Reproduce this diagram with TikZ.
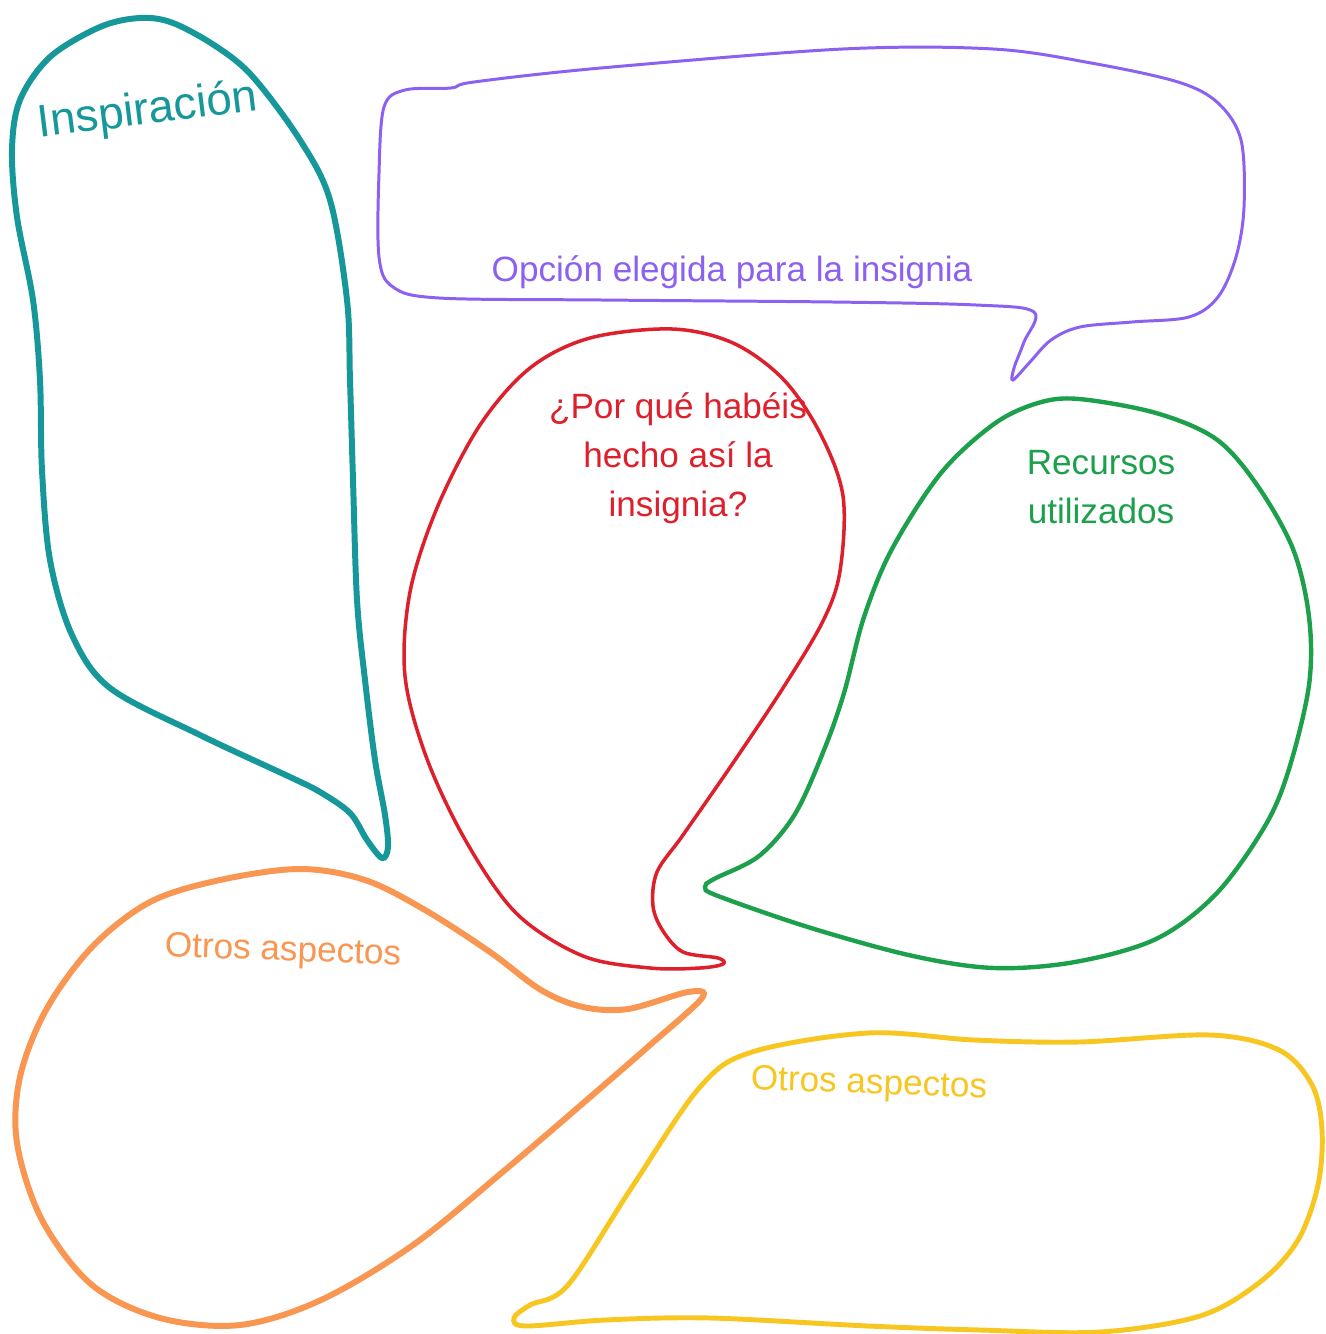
\documentclass[tikz,border=0pt]{standalone}
\usepackage{fontspec}
\setmainfont{Liberation Sans}
\usetikzlibrary{positioning}

\definecolor{inspteal}{RGB}{22,152,154}
\definecolor{opcpurple}{RGB}{140,96,240}
\definecolor{porqred}{RGB}{222,32,44}
\definecolor{recgreen}{RGB}{28,160,76}
\definecolor{otrorange}{RGB}{248,150,82}
\definecolor{otryellow}{RGB}{248,198,32}

\begin{document}
\begin{tikzpicture}[
      x=0.02cm, y=-0.02cm,
      bubble/.style={
          line join=round,
          line cap=round,
          smooth cycle,
          tension=0.55
        },
      label/.style={
          inner sep=0pt,
          align=center,
          font=\fontsize{20}{28}\selectfont
        }
    ]

    \clip (0,0) rectangle (1325,1334);
    \fill[white] (0,0) rectangle (1325,1334);

    % Bubbles
    \draw[inspteal, line width=3.4pt] plot[bubble] coordinates {
        (140,18) (173,23) (217,47) (253,77) (300,140) (330,200) (347,300)
        (350,380) (353,480) (357,600) (365,680) (375,760) (385,815) (388,847)
        (382,858) (367,840) (350,813) (320,792) (290,777) (200,735) (110,688)
        (72,635) (50,560) (42,470) (40,380) (33,300) (17,217) (12,150)
        (20,100) (50,57) (100,27)};

    \draw[opcpurple, line width=1.7pt] plot[bubble] coordinates {
        (405,90) (451,88) (474,82) (601,68) (843,49) (993,49) (1091,63)
        (1178,82) (1218,103) (1241,140) (1244,207) (1236,257) (1218,297)
        (1189,317) (1132,322) (1080,327) (1051,340) (1030,362) (1013,380)
        (1014,368) (1024,342) (1034,312) (976,305) (832,302) (601,300)
        (439,298) (393,287) (379,257) (379,173) (384,107)};

    \draw[porqred, line width=2pt] plot[bubble] coordinates {
        (672,329) (733,343) (783,379) (820,433) (843,496) (840,571) (823,621)
        (783,688) (733,763) (683,835) (657,872) (653,906) (663,931) (683,952)
        (718,958) (723,964) (700,968) (650,968) (583,956) (517,914) (467,843)
        (427,759) (405,676) (410,592) (437,508) (480,425) (530,368) (590,338)};

    \draw[recgreen, line width=2.5pt] plot[bubble] coordinates {
        (1079,399) (1156,413) (1216,439) (1257,485) (1293,549) (1309,617)
        (1309,685) (1289,769) (1265,826) (1216,894) (1156,939) (1075,962)
        (994,968) (913,956) (811,928) (718,896) (705,887) (714,879) (759,856)
        (795,814) (824,750) (844,693) (864,617) (892,549) (941,473) (994,424)
        (1038,403)};

    \draw[otrorange, line width=3.4pt] plot[bubble] coordinates {
        (300,869) (365,880) (425,910) (490,952) (541,990) (583,1007)
        (628,1009) (688,992) (702,998) (650,1045) (596,1092) (505,1170)
        (413,1245) (321,1300) (240,1325) (160,1318) (92,1285) (42,1220)
        (17,1143) (20,1077) (46,1010) (92,947) (150,902) (220,880)};

    \draw[otryellow, line width=2.8pt] plot[bubble] coordinates {
        (752,1052) (868,1033) (974,1040) (1079,1042) (1210,1035) (1279,1050)
        (1312,1085) (1322,1130) (1318,1185) (1298,1240) (1260,1282)
        (1200,1316) (1100,1332) (980,1330) (868,1326) (710,1318) (605,1320)
        (526,1326) (514,1318) (530,1305) (568,1285) (632,1187) (700,1087)};

    % Labels
    \node[label, inspteal, font=\fontsize{26}{30}\selectfont, rotate=7]
        (insp) at (148,112) {Inspiración};
    \node[label, opcpurple] (opcion) at (732,272) {Opción elegida para la insignia};
    \node[label, porqred] (porque) at (678,458) {¿Por qué habéis\\hecho así la\\insignia?};
    \node[label, recgreen] (recursos) at (1101,487) {Recursos\\utilizados};
    \node[label, otrorange, rotate=-2] (otros1) at (283,952) {Otros aspectos};
    \node[label, otryellow, rotate=-2] (otros2) at (869,1085) {Otros aspectos};

\end{tikzpicture}
\end{document}
